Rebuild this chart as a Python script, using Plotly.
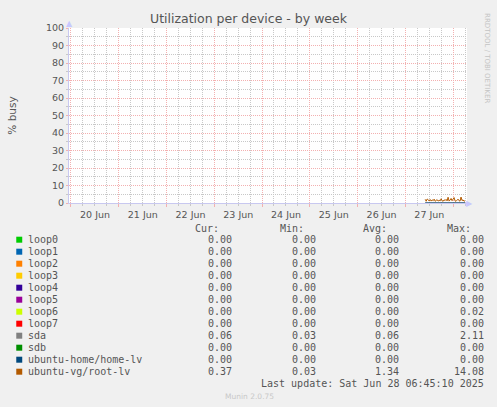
import plotly.graph_objects as go

# ---------------- data ----------------
day_ticks = ["2025-06-20", "2025-06-21", "2025-06-22", "2025-06-23", "2025-06-24",
             "2025-06-25", "2025-06-26", "2025-06-27", "2025-06-28"]
day_labels = ["20 Jun", "21 Jun", "22 Jun", "23 Jun", "24 Jun", "25 Jun", "26 Jun", "27 Jun", ""]

y_ticks = [0, 10, 20, 30, 40, 50, 60, 70, 80, 90, 100]

# 30-minute samples, 2025-06-27 10:00 .. 2025-06-28 06:00
times = ["2025-06-27 10:00", "2025-06-27 10:30", "2025-06-27 11:00", "2025-06-27 11:30",
         "2025-06-27 12:00", "2025-06-27 12:30", "2025-06-27 13:00", "2025-06-27 13:30",
         "2025-06-27 14:00", "2025-06-27 14:30", "2025-06-27 15:00", "2025-06-27 15:30",
         "2025-06-27 16:00", "2025-06-27 16:30", "2025-06-27 17:00", "2025-06-27 17:30",
         "2025-06-27 18:00", "2025-06-27 18:30", "2025-06-27 19:00", "2025-06-27 19:30",
         "2025-06-27 20:00", "2025-06-27 20:30", "2025-06-27 21:00", "2025-06-27 21:30",
         "2025-06-27 22:00", "2025-06-27 22:30", "2025-06-27 23:00", "2025-06-27 23:30",
         "2025-06-28 00:00", "2025-06-28 00:30", "2025-06-28 01:00", "2025-06-28 01:30",
         "2025-06-28 02:00", "2025-06-28 02:30", "2025-06-28 03:00", "2025-06-28 03:30",
         "2025-06-28 04:00", "2025-06-28 04:30", "2025-06-28 05:00", "2025-06-28 05:30",
         "2025-06-28 06:00"]

root_lv = [2.1, 1.0, 2.3, 1.4, 1.2, 2.0, 1.1, 1.8, 1.3, 2.2, 1.0, 1.5, 1.9, 1.1,
           1.6, 1.2, 2.4, 1.3, 1.0, 1.8, 1.4, 2.1, 1.2, 3.3, 1.1, 1.7, 2.6, 1.3,
           1.9, 3.1, 1.2, 1.0, 1.6, 2.2, 1.3, 1.1, 3.4, 1.4, 1.8, 1.0, 1.3]
sda = [0.06, 0.05, 0.07, 0.06, 0.05, 0.06, 0.06, 0.07, 0.05, 0.06, 0.06, 0.05, 0.07, 0.06,
       0.06, 0.05, 0.06, 0.07, 0.06, 0.05, 0.06, 0.06, 0.07, 0.06, 0.05, 0.06, 0.06, 0.07,
       0.06, 0.05, 0.06, 0.06, 0.07, 0.06, 0.05, 0.06, 0.06, 0.07, 0.06, 0.05, 0.06]
home_lv = [0.0] * len(times)

names = ["loop0", "loop1", "loop2", "loop3", "loop4", "loop5", "loop6", "loop7",
         "sda", "sdb", "ubuntu-home/home-lv", "ubuntu-vg/root-lv"]
colors = ["#00CC00", "#0066B3", "#FF8000", "#FFCC00", "#330099", "#990099",
          "#CCFF00", "#FF0000", "#808080", "#008F00", "#00487D", "#B35A00"]
cur = ["0.00", "0.00", "0.00", "0.00", "0.00", "0.00", "0.00", "0.00", "0.06", "0.00", "0.00", "0.37"]
mins = ["0.00", "0.00", "0.00", "0.00", "0.00", "0.00", "0.00", "0.00", "0.03", "0.00", "0.00", "0.03"]
avgs = ["0.00", "0.00", "0.00", "0.00", "0.00", "0.00", "0.00", "0.00", "0.06", "0.00", "0.00", "1.34"]
maxs = ["0.00", "0.00", "0.00", "0.00", "0.00", "0.00", "0.02", "0.00", "2.11", "0.00", "0.00", "14.08"]

# ---------------- layout helpers ----------------
W, H = 497, 407
PL, PR, PT, PB = 67, 467, 28, 203   # plot area pixel box


def px(x):
    return (x - PL) / (PR - PL)


def py(y):
    return (PB - y) / (PB - PT)


TXT = "#555555"
MAJ = "#F3B0B0"
MIN = "#C8C8C8"
DOTS = "1px,1px"

fig = go.Figure()
fig.add_trace(go.Scatter(x=times, y=sda, mode="lines", line=dict(color=colors[8], width=1),
                         hoverinfo="skip"))
fig.add_trace(go.Scatter(x=times, y=home_lv, mode="lines", line=dict(color=colors[10], width=1),
                         hoverinfo="skip"))
fig.add_trace(go.Scatter(x=times, y=root_lv, mode="lines", line=dict(color=colors[11], width=1),
                         hoverinfo="skip"))

fig.update_layout(
    width=W, height=H,
    margin=dict(l=PL, r=W - PR, t=PT, b=H - PB, pad=0),
    paper_bgcolor="#F0F0F0", plot_bgcolor="#FFFFFF",
    showlegend=False,
    font=dict(family="DejaVu Sans", color=TXT, size=9.5),
    title=dict(text="Utilization per device - by week", x=0.5, xanchor="center",
               y=1 - 19 / H, yanchor="middle", font=dict(size=12.5, color="#555555")),
    xaxis=dict(type="date", range=["2025-06-19 23:00", "2025-06-28 07:00"],
               tickmode="array", tickvals=day_ticks, ticktext=day_labels,
               ticklabelshift=24, ticks="outside", ticklen=3, tickcolor=MAJ,
               showgrid=True, gridcolor=MAJ, griddash=DOTS, gridwidth=1,
               minor=dict(dtick=6 * 3600 * 1000, tick0="2025-06-20", showgrid=True,
                          gridcolor=MIN, griddash=DOTS, ticks="outside", ticklen=2,
                          tickcolor=MIN),
               showline=True, linecolor="#C8C8F0", linewidth=1, zeroline=False,
               fixedrange=True, tickfont=dict(size=9.5, color=TXT)),
    yaxis=dict(range=[0, 100], tickmode="array", tickvals=y_ticks,
               ticks="outside", ticklen=2, tickcolor=MAJ,
               showgrid=True, gridcolor=MAJ, griddash=DOTS, gridwidth=1,
               minor=dict(dtick=5, showgrid=True, gridcolor=MIN, griddash=DOTS,
                          ticks="outside", ticklen=2, tickcolor=MIN),
               showline=True, linecolor="#C8C8F0", linewidth=1, zeroline=False,
               fixedrange=True, tickfont=dict(size=9.5, color=TXT),
               title=dict(text="% busy", font=dict(size=10.5, color=TXT), standoff=27)),
)

ann = []
shapes = []
# axis arrows
ann.append(dict(x=px(470), y=py(203), xref="paper", yref="paper", text="▶", showarrow=False,
                font=dict(size=8, color="#C8C8FF"), xanchor="center", yanchor="middle"))
ann.append(dict(x=px(67), y=py(24), xref="paper", yref="paper", text="▲", showarrow=False,
                font=dict(size=8, color="#C8C8FF"), xanchor="center", yanchor="middle"))
# watermark
ann.append(dict(x=px(487), y=py(58), xref="paper", yref="paper", text="RRDTOOL / TOBI OETIKER",
                textangle=90, showarrow=False, font=dict(size=7, color="#C4C4C4"),
                xanchor="center", yanchor="middle"))

MONO = dict(family="DejaVu Sans Mono", size=10, color=TXT)
NOPAD = dict(borderpad=0, borderwidth=0)
hdr_y = 228.3
for label, xr in zip(["Cur:", "Min:", "Avg:", "Max:"], [218, 302.7, 386.7, 471]):
    ann.append(dict(x=px(xr), y=py(hdr_y), xref="paper", yref="paper", text=label,
                    showarrow=False, font=MONO, xanchor="right", yanchor="middle", **NOPAD))

for i, n in enumerate(names):
    yy = 239.7 + 12 * i
    shapes.append(dict(type="rect", xref="paper", yref="paper",
                       x0=px(14), x1=px(20), y0=py(yy - 3), y1=py(yy + 3),
                       fillcolor=colors[i], line=dict(width=0)))
    ann.append(dict(x=px(26), y=py(yy), xref="paper", yref="paper", text=n,
                    showarrow=False, font=MONO, xanchor="left", yanchor="middle", **NOPAD))
    for vals, xr in zip([cur, mins, avgs, maxs], [231, 315, 399, 483.7]):
        ann.append(dict(x=px(xr), y=py(yy), xref="paper", yref="paper", text=vals[i],
                        showarrow=False, font=MONO, xanchor="right", yanchor="middle", **NOPAD))

ann.append(dict(x=px(483.7), y=py(383.7), xref="paper", yref="paper",
                text="Last update: Sat Jun 28 06:45:10 2025",
                showarrow=False, font=MONO, xanchor="right", yanchor="middle", **NOPAD))
ann.append(dict(x=px(248), y=py(396), xref="paper", yref="paper", text="Munin 2.0.75",
                showarrow=False, font=dict(family="DejaVu Sans", size=7.5, color="#C8C8C8"),
                xanchor="center", yanchor="middle"))

fig.update_layout(annotations=ann, shapes=shapes)
fig.write_html("out.html", config=dict(displayModeBar=False),
               post_script="document.body.style.margin='0';document.body.style.overflow='hidden';")
